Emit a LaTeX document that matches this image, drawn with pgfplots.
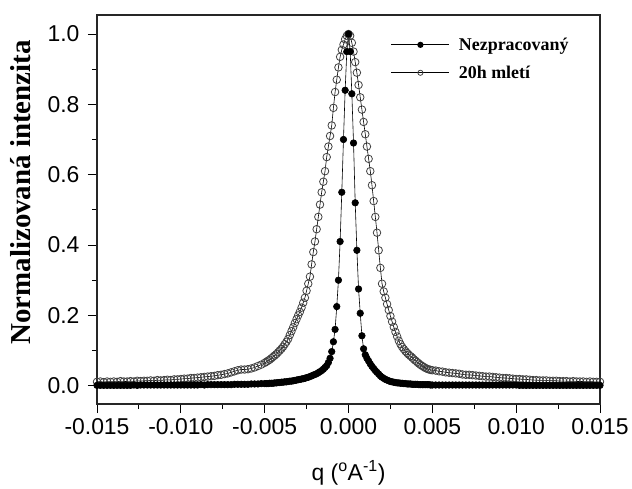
\documentclass[border=0pt]{standalone}
\usepackage{fontspec}
\setmainfont{Liberation Sans}
\newfontfamily\tnr{Liberation Serif}
\usepackage{pgfplots}
\usepackage{pgfplotstable}
\pgfplotsset{compat=1.18}

% raw sample: q (1/A) vs. normalised intensity
\pgfplotstableread{
q I
-0.0150 0.001
-0.0148 0.001
-0.0146 0.001
-0.0144 0.001
-0.0142 0.001
-0.0140 0.001
-0.0138 0.001
-0.0136 0.001
-0.0134 0.001
-0.0132 0.001
-0.0130 0.001
-0.0128 0.002
-0.0126 0.001
-0.0124 0.002
-0.0122 0.002
-0.0120 0.002
-0.0118 0.002
-0.0116 0.002
-0.0114 0.002
-0.0112 0.002
-0.0110 0.002
-0.0108 0.002
-0.0106 0.002
-0.0104 0.002
-0.0102 0.002
-0.0100 0.002
-0.0098 0.002
-0.0096 0.002
-0.0094 0.002
-0.0092 0.002
-0.0090 0.002
-0.0088 0.003
-0.0086 0.002
-0.0084 0.003
-0.0082 0.003
-0.0080 0.003
-0.0078 0.003
-0.0076 0.003
-0.0074 0.003
-0.0072 0.003
-0.0070 0.003
-0.0068 0.004
-0.0066 0.004
-0.0064 0.004
-0.0062 0.004
-0.0060 0.004
-0.0058 0.005
-0.0056 0.005
-0.0054 0.005
-0.0052 0.006
-0.0050 0.006
-0.0049 0.006
-0.0048 0.006
-0.0047 0.007
-0.0046 0.007
-0.0045 0.007
-0.0044 0.008
-0.0043 0.008
-0.0042 0.009
-0.0041 0.009
-0.0040 0.010
-0.0039 0.010
-0.0038 0.011
-0.0037 0.011
-0.0036 0.012
-0.0035 0.013
-0.0034 0.013
-0.0033 0.014
-0.0032 0.015
-0.0031 0.016
-0.0030 0.017
-0.0029 0.018
-0.0028 0.019
-0.0027 0.020
-0.0026 0.021
-0.0025 0.023
-0.0024 0.024
-0.0023 0.026
-0.0022 0.028
-0.0021 0.030
-0.0020 0.032
-0.0019 0.034
-0.0018 0.037
-0.0017 0.040
-0.0016 0.043
-0.0015 0.047
-0.0014 0.052
-0.0013 0.057
-0.0012 0.066
-0.0011 0.078
-0.0010 0.097
-0.0009 0.125
-0.0008 0.160
-0.0007 0.225
-0.0006 0.300
-0.0005 0.410
-0.0004 0.550
-0.0003 0.700
-0.0002 0.840
-0.0001 0.950
0.0000 1.000
0.0001 0.950
0.0002 0.830
0.0003 0.690
0.0004 0.520
0.0005 0.385
0.0006 0.275
0.0007 0.206
0.0008 0.142
0.0009 0.105
0.0010 0.088
0.0011 0.078
0.0012 0.070
0.0013 0.062
0.0014 0.055
0.0015 0.049
0.0016 0.043
0.0017 0.038
0.0018 0.033
0.0019 0.028
0.0020 0.024
0.0021 0.021
0.0022 0.018
0.0023 0.016
0.0024 0.014
0.0025 0.012
0.0026 0.011
0.0027 0.010
0.0028 0.009
0.0029 0.008
0.0030 0.008
0.0031 0.007
0.0032 0.007
0.0033 0.006
0.0034 0.006
0.0035 0.005
0.0036 0.005
0.0037 0.005
0.0038 0.004
0.0039 0.004
0.0040 0.004
0.0041 0.004
0.0042 0.003
0.0043 0.003
0.0044 0.003
0.0045 0.003
0.0046 0.003
0.0047 0.003
0.0048 0.003
0.0049 0.002
0.0050 0.002
0.0052 0.002
0.0054 0.002
0.0056 0.002
0.0058 0.002
0.0060 0.002
0.0062 0.002
0.0064 0.002
0.0066 0.002
0.0068 0.002
0.0070 0.002
0.0072 0.002
0.0074 0.002
0.0076 0.002
0.0078 0.002
0.0080 0.002
0.0082 0.002
0.0084 0.002
0.0086 0.002
0.0088 0.002
0.0090 0.002
0.0092 0.002
0.0094 0.002
0.0096 0.002
0.0098 0.002
0.0100 0.002
0.0102 0.001
0.0104 0.001
0.0106 0.001
0.0108 0.001
0.0110 0.001
0.0112 0.001
0.0114 0.001
0.0116 0.001
0.0118 0.001
0.0120 0.001
0.0122 0.001
0.0124 0.001
0.0126 0.001
0.0128 0.001
0.0130 0.001
0.0132 0.001
0.0134 0.001
0.0136 0.001
0.0138 0.001
0.0140 0.001
0.0142 0.001
0.0144 0.001
0.0146 0.001
0.0148 0.001
0.0150 0.001
}\raw

% after 20 h of milling
\pgfplotstableread{
q I
-0.0150 0.011
-0.0148 0.012
-0.0146 0.010
-0.0144 0.012
-0.0142 0.011
-0.0140 0.012
-0.0138 0.011
-0.0136 0.013
-0.0134 0.012
-0.0132 0.012
-0.0130 0.013
-0.0128 0.012
-0.0126 0.014
-0.0124 0.013
-0.0122 0.014
-0.0120 0.014
-0.0118 0.015
-0.0116 0.014
-0.0114 0.016
-0.0112 0.015
-0.0110 0.016
-0.0108 0.017
-0.0106 0.016
-0.0104 0.018
-0.0102 0.018
-0.0100 0.019
-0.0098 0.020
-0.0096 0.020
-0.0094 0.022
-0.0092 0.022
-0.0090 0.023
-0.0088 0.024
-0.0086 0.025
-0.0084 0.026
-0.0082 0.027
-0.0080 0.028
-0.0078 0.030
-0.0076 0.031
-0.0074 0.033
-0.0072 0.035
-0.0070 0.038
-0.0068 0.041
-0.0066 0.044
-0.0064 0.046
-0.0062 0.046
-0.0060 0.047
-0.0058 0.049
-0.0056 0.052
-0.0054 0.056
-0.0052 0.060
-0.0050 0.065
-0.0049 0.068
-0.0048 0.071
-0.0047 0.074
-0.0046 0.078
-0.0045 0.082
-0.0044 0.086
-0.0043 0.090
-0.0042 0.095
-0.0041 0.100
-0.0040 0.105
-0.0039 0.111
-0.0038 0.118
-0.0037 0.125
-0.0036 0.133
-0.0035 0.144
-0.0034 0.155
-0.0033 0.166
-0.0032 0.178
-0.0031 0.189
-0.0030 0.200
-0.0029 0.210
-0.0028 0.222
-0.0027 0.236
-0.0026 0.250
-0.0025 0.270
-0.0024 0.290
-0.0023 0.310
-0.0022 0.345
-0.0021 0.380
-0.0020 0.410
-0.0019 0.445
-0.0018 0.480
-0.0017 0.515
-0.0016 0.550
-0.0015 0.580
-0.0014 0.610
-0.0013 0.650
-0.0012 0.680
-0.0011 0.710
-0.0010 0.740
-0.0009 0.790
-0.0008 0.835
-0.0007 0.870
-0.0006 0.905
-0.0005 0.935
-0.0004 0.955
-0.0003 0.970
-0.0002 0.985
-0.0001 0.995
0.0000 1.000
0.0001 0.995
0.0002 0.975
0.0003 0.950
0.0004 0.920
0.0005 0.890
0.0006 0.855
0.0007 0.820
0.0008 0.785
0.0009 0.750
0.0010 0.715
0.0011 0.680
0.0012 0.645
0.0013 0.610
0.0014 0.570
0.0015 0.525
0.0016 0.480
0.0017 0.435
0.0018 0.385
0.0019 0.335
0.0020 0.290
0.0021 0.268
0.0022 0.250
0.0023 0.232
0.0024 0.215
0.0025 0.198
0.0026 0.182
0.0027 0.167
0.0028 0.153
0.0029 0.140
0.0030 0.128
0.0031 0.118
0.0032 0.110
0.0033 0.104
0.0034 0.098
0.0035 0.093
0.0036 0.088
0.0037 0.084
0.0038 0.080
0.0039 0.075
0.0040 0.071
0.0041 0.067
0.0042 0.063
0.0043 0.059
0.0044 0.056
0.0045 0.053
0.0046 0.050
0.0047 0.048
0.0048 0.046
0.0049 0.045
0.0050 0.044
0.0052 0.043
0.0054 0.041
0.0056 0.040
0.0058 0.038
0.0060 0.037
0.0062 0.036
0.0064 0.035
0.0066 0.034
0.0068 0.032
0.0070 0.031
0.0072 0.031
0.0074 0.030
0.0076 0.029
0.0078 0.028
0.0080 0.027
0.0082 0.026
0.0084 0.026
0.0086 0.025
0.0088 0.024
0.0090 0.023
0.0092 0.022
0.0094 0.022
0.0096 0.021
0.0098 0.020
0.0100 0.019
0.0102 0.019
0.0104 0.018
0.0106 0.018
0.0108 0.017
0.0110 0.016
0.0112 0.016
0.0114 0.015
0.0116 0.015
0.0118 0.015
0.0120 0.014
0.0122 0.014
0.0124 0.014
0.0126 0.013
0.0128 0.013
0.0130 0.013
0.0132 0.012
0.0134 0.013
0.0136 0.012
0.0138 0.012
0.0140 0.012
0.0142 0.011
0.0144 0.012
0.0146 0.011
0.0148 0.011
0.0150 0.011
}\milled

\begin{document}
\begin{tikzpicture}
\begin{axis}[
  name=main,
  scale only axis,
  width=503bp, height=389bp,
  xmin=-0.015, xmax=0.015,
  ymin=-0.052, ymax=1.054,
  xtick={-0.015,-0.010,-0.005,0,0.005,0.010,0.015},
  ytick={0,0.2,0.4,0.6,0.8,1.0},
  minor x tick num=1, minor y tick num=1,
  tick align=outside,
  xtick pos=left, ytick pos=left,
  major tick length=9bp, minor tick length=5bp,
  every tick/.style={black, line width=0.9pt},
  axis line style={line width=1.1pt, black!85},
  scaled x ticks=false,
  xticklabel style={/pgf/number format/.cd, fixed, fixed zerofill, precision=3, assume math mode=true},
  yticklabel style={/pgf/number format/.cd, fixed, fixed zerofill, precision=1, assume math mode=true},
  tick label style={font=\fontsize{23}{23}\selectfont},
  xticklabel shift=2bp,
  yticklabel shift=5bp,
  xlabel={q (\textsuperscript{o}A\textsuperscript{-1})},
  xlabel style={font=\fontsize{23}{23}\selectfont, yshift=-19bp},
  ylabel={Normalizovaná intenzita},
  ylabel style={font=\tnr\bfseries\fontsize{29}{29}\selectfont, at={(ticklabel cs:0.544,10bp)}},
  legend style={draw=none, fill=none, at={(rel axis cs:0.578,0.952)}, anchor=north west,
    font=\tnr\bfseries\fontsize{18}{18}\selectfont, row sep=10bp,
    /tikz/every odd column/.append style={column sep=7bp}},
  legend cell align=left,
  reverse legend,
  legend image code/.code={%
    \draw[mark repeat=2, mark phase=2, mark size=2.6pt, line width=1pt]
      plot coordinates {(0bp,0bp) (29bp,0bp) (58bp,0bp)};},
]
\addplot[black, line width=0.6pt, mark=o, mark size=3.8pt,
  mark options={draw=black!75, fill=white, line width=0.8pt}] table[x=q, y=I] {\milled};
\addlegendentry{20h mletí}
\addplot[black, line width=0.6pt, mark=*, mark size=3.3pt,
  mark options={draw=black, fill=black}] table[x=q, y=I] {\raw};
\addlegendentry{Nezpracovaný}
\end{axis}
% white margins around the plot area
\path ([xshift=-97bp,yshift=15bp]main.north west) ([xshift=32bp,yshift=-79bp]main.south east);
\end{tikzpicture}
\end{document}
